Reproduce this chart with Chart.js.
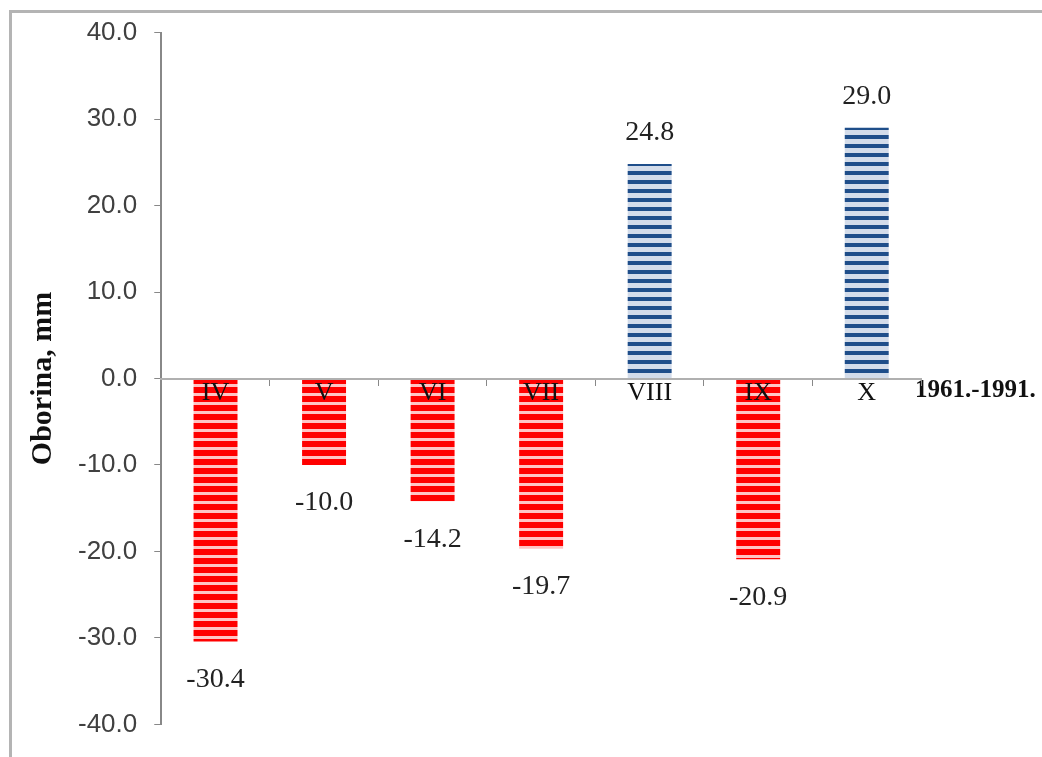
<!DOCTYPE html>
<html>
<head>
<meta charset="utf-8">
<script src="https://cdn.jsdelivr.net/npm/chart.js@4"></script>
<style>
  body { margin: 0; background: #fff; }
  #wrap { position: relative; width: 1042px; height: 757px; overflow: hidden; }
  #frame {
    position: absolute; left: 9px; top: 10px; width: 1100px; height: 800px;
    border-left: 3px solid #b4b4b4; border-top: 3px solid #b4b4b4;
  }
  canvas { position: absolute; left: 0; top: 0; }
</style>
</head>
<body>
<div id="wrap">
  <div id="frame"></div>
  <canvas id="mainChart" width="1042" height="757"></canvas>
</div>
<script>
// -- Chart data --
const months = ["IV", "V", "VI", "VII", "VIII", "IX", "X"];
const deviation = [-30.4, -10.0, -14.2, -19.7, 24.8, -20.9, 29.0];
const seriesName = "1961.-1991.";
const yTicks = [-40, -30, -20, -10, 0, 10, 20, 30, 40];

// -- Striped fill for the bars --
function stripePattern(dark, light, darkH, period) {
  const c = document.createElement("canvas");
  c.width = 8;
  c.height = period;
  const g = c.getContext("2d");
  g.fillStyle = light;
  g.fillRect(0, 0, 8, period);
  g.fillStyle = dark;
  g.fillRect(0, 0, 8, darkH);
  return g.createPattern(c, "repeat");
}

const redFill = stripePattern("#ff0000", "#ffc4c4", 6, 9);
const blueFill = stripePattern("#1f4e8a", "#d3dcea", 4, 9);

// -- Value labels above / below the bars --
const valueLabels = {
  id: "valueLabels",
  afterDatasetsDraw(chart) {
    const ctx = chart.ctx;
    const meta = chart.getDatasetMeta(0);
    ctx.save();
    ctx.font = "28px 'Liberation Serif'";
    ctx.fillStyle = "#222";
    ctx.textAlign = "center";
    meta.data.forEach((bar, i) => {
      const v = deviation[i];
      if (v >= 0) {
        ctx.textBaseline = "bottom";
        ctx.fillText(v.toFixed(1), bar.x, bar.y - 17);
      } else {
        ctx.textBaseline = "top";
        ctx.fillText(v.toFixed(1), bar.x, bar.y + 24);
      }
    });
    // series name next to the zero line
    const zeroY = chart.scales.y.getPixelForValue(0);
    ctx.font = "bold 25px 'Liberation Serif'";
    ctx.fillStyle = "#111";
    ctx.textAlign = "left";
    ctx.textBaseline = "middle";
    ctx.fillText(chart.data.datasets[0].label, chart.chartArea.right - 6, zeroY + 12);
    ctx.restore();
  },
};

const ctx = document.getElementById("mainChart").getContext("2d");
new Chart(ctx, {
  type: "bar",
  data: {
    labels: months,
    datasets: [
      {
        label: seriesName,
        data: deviation,
        backgroundColor: (c) => (c.raw < 0 ? redFill : blueFill),
        borderWidth: 0,
        barPercentage: 0.405,
        categoryPercentage: 1.0,
      },
    ],
  },
  options: {
    responsive: false,
    animation: false,
    devicePixelRatio: 1,
    layout: {
      padding: { left: 25, right: 121, top: 24, bottom: 21 },
    },
    plugins: {
      legend: { display: false },
      tooltip: { enabled: false },
    },
    scales: {
      x: {
        position: { y: 0 },
        grid: {
          drawOnChartArea: false,
          offset: true,
          tickLength: 6,
          color: "#888",
          z: 1,
        },
        border: { color: "#b0b0b0", width: 2, z: 1 },
        ticks: {
          z: 1,
          padding: -7,
          color: "#111",
          font: { family: "Liberation Serif", size: 26 },
        },
      },
      y: {
        min: -40,
        max: 40,
        afterBuildTicks: (axis) => {
          axis.ticks = yTicks.map((v) => ({ value: v }));
        },
        grid: {
          drawOnChartArea: false,
          tickLength: 7,
          color: "#888",
        },
        border: { color: "#888", width: 2 },
        ticks: {
          padding: 17,
          color: "#404040",
          font: { family: "Liberation Sans", size: 26 },
          callback: (v) => Number(v).toFixed(1),
        },
        title: {
          display: true,
          text: "Oborina, mm",
          color: "#111",
          padding: { top: 0, bottom: 0 },
          font: { family: "Liberation Serif", size: 30, weight: "bold" },
        },
      },
    },
  },
  plugins: [valueLabels],
});
</script>
</body>
</html>
